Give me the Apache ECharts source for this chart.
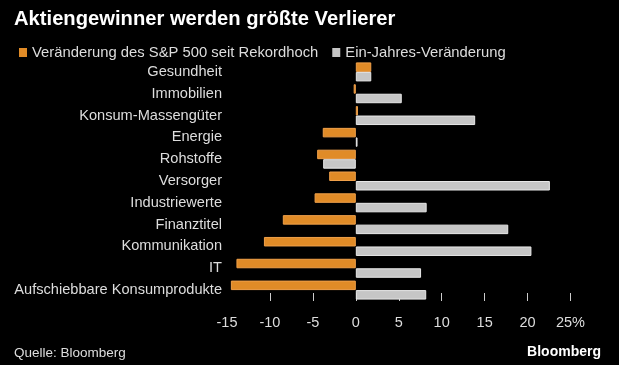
<!DOCTYPE html>
<html>
<head>
<meta charset="utf-8">
<script src="https://cdn.jsdelivr.net/npm/echarts@6/dist/echarts.min.js"></script>
<style>
html,body{margin:0;padding:0;background:#000;}
#c{width:619px;height:365px;}
</style>
</head>
<body>
<div id="c"></div>
<script>
var categories = ["Gesundheit","Immobilien","Konsum-Massengüter","Energie","Rohstoffe","Versorger","Industriewerte","Finanztitel","Kommunikation","IT","Aufschiebbare Konsumprodukte"];
var seitRekordhoch = [1.8, -0.25, 0.25, -3.85, -4.5, -3.1, -4.8, -8.5, -10.7, -13.9, -14.55];
var einJahr = [1.8, 5.35, 13.9, 0.2, -3.8, 22.6, 8.25, 17.75, 20.45, 7.6, 8.2];
var tickValues = [-10, -5, 0, 5, 10, 15, 20, 25];
var seriesNames = ["Veränderung des S&P 500 seit Rekordhoch", "Ein-Jahres-Veränderung"];

var font = "Liberation Sans, Arial, sans-serif";
var chart = echarts.init(document.getElementById('c'));
chart.setOption({
  backgroundColor: '#000',
  animation: false,
  textStyle: {fontFamily: font},
  title: {
    text: 'Aktiengewinner werden größte Verlierer',
    left: 9, top: 4,
    textStyle: {color: '#fff', fontSize: 20.2, fontWeight: 'bold', fontFamily: font}
  },
  legend: {
    left: 14, top: 40,
    itemWidth: 8, itemHeight: 9, itemGap: 14,
    icon: 'rect',
    itemStyle: {borderWidth: 0},
    textStyle: {color: '#ddd', fontSize: 14.8, fontFamily: font, padding: [0,0,0,0]},
    data: seriesNames
  },
  grid: {left: 227, right: 48.5, top: 61, bottom: 64},
  xAxis: {
    type: 'value', min: -15, max: 25, interval: 5,
    axisLine: {show: false},
    splitLine: {show: false},
    axisTick: {show: true, inside: true, length: 8, customValues: tickValues, lineStyle: {color: '#ccc', width: 1}},
    axisLabel: {color: '#ddd', fontSize: 14.5, margin: 14, fontFamily: font,
      formatter: function(v){ return v === 25 ? '25%' : String(v); }}
  },
  yAxis: {
    type: 'category', inverse: true, data: categories,
    axisLine: {show: false}, axisTick: {show: false},
    axisLabel: {color: '#ddd', fontSize: 14.6, margin: 5, fontFamily: font}
  },
  series: [
    {name: seriesNames[0], type: 'bar', data: seitRekordhoch, barWidth: 9.5, barGap: '0%',
     itemStyle: {color: '#e08b27', borderColor: '#f0a04a', borderWidth: 1}},
    {name: seriesNames[1], type: 'bar', data: einJahr, barWidth: 9.5, barGap: '0%',
     itemStyle: {color: '#c6c6c6', borderColor: '#e8e8e8', borderWidth: 1}}
  ],
  graphic: [
    {type: 'text', left: 14, top: 346, style: {text: 'Quelle: Bloomberg', fill: '#ddd', font: '13.5px ' + font}},
    {type: 'text', right: 18, top: 345, style: {text: 'Bloomberg', fill: '#fff', font: 'bold 14px ' + font}}
  ]
});
</script>
</body>
</html>
